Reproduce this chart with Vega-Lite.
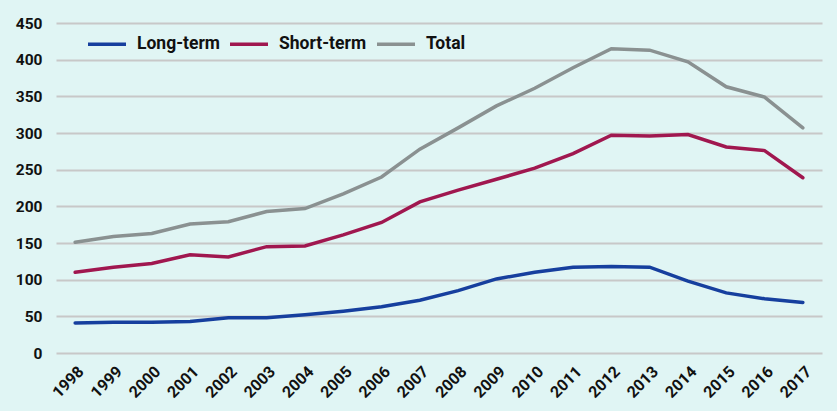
{
  "$schema": "https://vega.github.io/schema/vega-lite/v6.json",
  "width": 766,
  "height": 330,
  "autosize": {"type": "none"},
  "padding": {"left": 56, "top": 23, "right": 15, "bottom": 58},
  "background": "#e0f5f4",
  "config": {
    "view": {"stroke": null},
    "font": "Roboto",
    "axis": {"labelFont": "Roboto", "labelFontWeight": "bold", "labelFontSize": 15.5, "labelColor": "#111111"},
    "legend": {"labelFont": "Roboto", "labelFontWeight": "bold", "labelFontSize": 17.5, "labelColor": "#111111"}
  },
  "data": {
    "values": [
      {"year": "1998", "series": "Long-term", "value": 41},
      {"year": "1999", "series": "Long-term", "value": 42},
      {"year": "2000", "series": "Long-term", "value": 42},
      {"year": "2001", "series": "Long-term", "value": 43},
      {"year": "2002", "series": "Long-term", "value": 48},
      {"year": "2003", "series": "Long-term", "value": 48},
      {"year": "2004", "series": "Long-term", "value": 52},
      {"year": "2005", "series": "Long-term", "value": 57},
      {"year": "2006", "series": "Long-term", "value": 63},
      {"year": "2007", "series": "Long-term", "value": 72},
      {"year": "2008", "series": "Long-term", "value": 85},
      {"year": "2009", "series": "Long-term", "value": 101},
      {"year": "2010", "series": "Long-term", "value": 110},
      {"year": "2011", "series": "Long-term", "value": 117},
      {"year": "2012", "series": "Long-term", "value": 118},
      {"year": "2013", "series": "Long-term", "value": 117},
      {"year": "2014", "series": "Long-term", "value": 98},
      {"year": "2015", "series": "Long-term", "value": 82},
      {"year": "2016", "series": "Long-term", "value": 74},
      {"year": "2017", "series": "Long-term", "value": 69},
      {"year": "1998", "series": "Short-term", "value": 110},
      {"year": "1999", "series": "Short-term", "value": 117},
      {"year": "2000", "series": "Short-term", "value": 122},
      {"year": "2001", "series": "Short-term", "value": 134},
      {"year": "2002", "series": "Short-term", "value": 131},
      {"year": "2003", "series": "Short-term", "value": 145},
      {"year": "2004", "series": "Short-term", "value": 146},
      {"year": "2005", "series": "Short-term", "value": 161},
      {"year": "2006", "series": "Short-term", "value": 178},
      {"year": "2007", "series": "Short-term", "value": 206},
      {"year": "2008", "series": "Short-term", "value": 222},
      {"year": "2009", "series": "Short-term", "value": 237},
      {"year": "2010", "series": "Short-term", "value": 252},
      {"year": "2011", "series": "Short-term", "value": 272},
      {"year": "2012", "series": "Short-term", "value": 297},
      {"year": "2013", "series": "Short-term", "value": 296},
      {"year": "2014", "series": "Short-term", "value": 298},
      {"year": "2015", "series": "Short-term", "value": 281},
      {"year": "2016", "series": "Short-term", "value": 276},
      {"year": "2017", "series": "Short-term", "value": 239},
      {"year": "1998", "series": "Total", "value": 151},
      {"year": "1999", "series": "Total", "value": 159},
      {"year": "2000", "series": "Total", "value": 163},
      {"year": "2001", "series": "Total", "value": 176},
      {"year": "2002", "series": "Total", "value": 179},
      {"year": "2003", "series": "Total", "value": 193},
      {"year": "2004", "series": "Total", "value": 197},
      {"year": "2005", "series": "Total", "value": 217},
      {"year": "2006", "series": "Total", "value": 240},
      {"year": "2007", "series": "Total", "value": 278},
      {"year": "2008", "series": "Total", "value": 307},
      {"year": "2009", "series": "Total", "value": 337},
      {"year": "2010", "series": "Total", "value": 361},
      {"year": "2011", "series": "Total", "value": 389},
      {"year": "2012", "series": "Total", "value": 415},
      {"year": "2013", "series": "Total", "value": 413},
      {"year": "2014", "series": "Total", "value": 397},
      {"year": "2015", "series": "Total", "value": 363},
      {"year": "2016", "series": "Total", "value": 349},
      {"year": "2017", "series": "Total", "value": 307}
    ]
  },
  "mark": {"type": "line", "strokeWidth": 3.5, "strokeCap": "round"},
  "encoding": {
    "x": {
      "field": "year",
      "type": "ordinal",
      "title": null,
      "scale": {"type": "point", "padding": 0.5},
      "axis": {"domain": false, "ticks": false, "labelAngle": -45, "labelPadding": 10, "labelFontSize": 16, "grid": false}
    },
    "y": {
      "field": "value",
      "type": "quantitative",
      "title": null,
      "scale": {"domain": [0, 450], "nice": false},
      "axis": {"values": [0, 50, 100, 150, 200, 250, 300, 350, 400, 450], "domain": false, "ticks": false, "labelPadding": 14, "gridColor": "#c8c8c8", "gridWidth": 2}
    },
    "color": {
      "field": "series",
      "type": "nominal",
      "title": null,
      "scale": {"domain": ["Long-term", "Short-term", "Total"], "range": ["#163f9e", "#a0174f", "#8a9191"]},
      "legend": {
        "orient": "none",
        "legendX": 30,
        "legendY": 0,
        "direction": "horizontal",
        "symbolType": "stroke",
        "symbolSize": 1444,
        "symbolStrokeWidth": 3.5,
        "labelOffset": 9,
        "columnPadding": 3
      }
    }
  }
}
